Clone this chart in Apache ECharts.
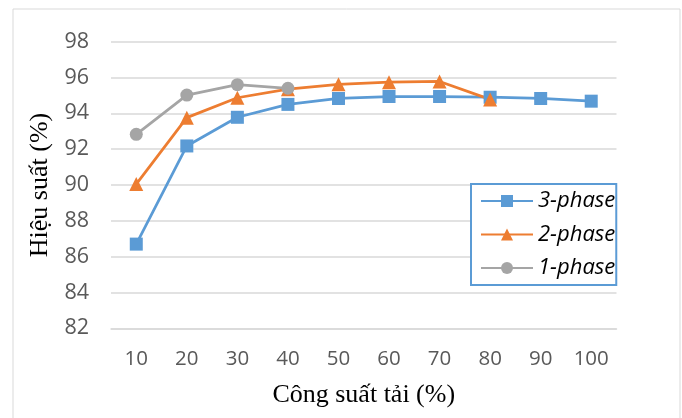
<!DOCTYPE html>
<html><head><meta charset="utf-8">
<script src="https://cdn.jsdelivr.net/npm/echarts@6/dist/echarts.min.js"></script>
<style>html,body{margin:0;padding:0;background:#fff}#c{width:682px;height:418px}</style>
</head><body><div id="c"></div>
<script>
const categories = ['10','20','30','40','50','60','70','80','90','100'];
const threePhase = [86.7, 92.18, 93.78, 94.5, 94.83, 94.94, 94.94, 94.9, 94.83, 94.68];
const twoPhase = [90.05, 93.76, 94.87, 95.35, 95.62, 95.74, 95.78, 94.78, null, null];
const onePhase = [92.83, 95.02, 95.6, 95.4, null, null, null, null, null, null];
const seriesNames = ['3-phase', '2-phase', '1-phase'];
const yMin = 82, yMax = 98, yStep = 2;

const chart = echarts.init(document.getElementById('c'), null, {renderer:'canvas'});
const mk = (name, data, color, symbol, size) => ({
  name, type:'line', data, symbol, symbolSize:size, showSymbol:true,
  lineStyle:{color, width:2.75}, itemStyle:{color, borderWidth:0},
  connectNulls:false, animation:false
});
chart.setOption({
  animation:false,
  graphic:[{type:'rect', shape:{x:13,y:9,width:667,height:420}, style:{fill:'none', stroke:'#d9d9d9', lineWidth:1}, silent:true}],
  grid:{left:111, right:65.5, top:41.7, bottom:89.7},
  xAxis:{type:'category', data:categories, boundaryGap:true,
    axisLine:{show:true, lineStyle:{color:'#d9d9d9', width:1.5}}, axisTick:{show:false},
    axisLabel:{color:'#595959', fontSize:20.5, fontFamily:'Open Sans', margin:20},
    name:'Công suất tải (%)', nameLocation:'middle', nameGap:67,
    nameTextStyle:{color:'#000', fontSize:26, fontFamily:'Liberation Serif', verticalAlign:'middle'}},
  yAxis:{type:'value', min:yMin, max:yMax, interval:yStep,
    axisLine:{show:false}, axisTick:{show:false},
    splitLine:{lineStyle:{color:'#d9d9d9', width:1.5}},
    axisLabel:{color:'#595959', fontSize:21.5, fontFamily:'Open Sans', margin:22},
    name:'Hiệu suất (%)', nameLocation:'middle', nameGap:61, nameRotate:90,
    nameTextStyle:{color:'#000', fontSize:26, fontFamily:'Liberation Serif', verticalAlign:'middle'}},
  legend:{orient:'vertical', left:471, top:184,
    backgroundColor:'#fff', borderColor:'#5B9BD5', borderWidth:2,
    padding:[5,1,5,9], itemWidth:52, itemHeight:15, itemGap:9.5,
    textStyle:{color:'#000', fontSize:22, lineHeight:24, fontStyle:'italic', fontFamily:'Open Sans'},
    data:seriesNames},
  series:[
    mk(seriesNames[0], threePhase, '#5B9BD5', 'rect', 13),
    mk(seriesNames[1], twoPhase, '#ED7D31', 'triangle', 14),
    mk(seriesNames[2], onePhase, '#A5A5A5', 'circle', 13)
  ]
});
</script></body></html>
